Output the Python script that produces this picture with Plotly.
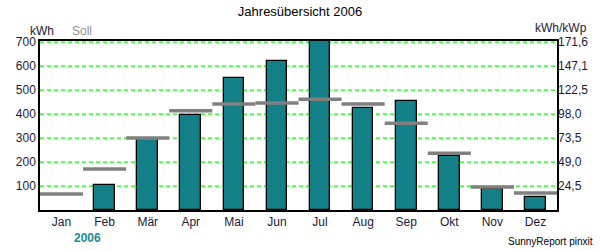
import plotly.graph_objects as go

months = ["Jan", "Feb", "Mär", "Apr", "Mai", "Jun", "Jul", "Aug", "Sep", "Okt", "Nov", "Dez"]
ist_kwh = [None, 106, 296, 396, 550, 621, 710, 425, 454, 225, 86, 53]
soll_kwh = [67, 171, 300, 414, 442, 446, 462, 442, 362, 237, 96, 71]
left_ticks = [100, 200, 300, 400, 500, 600, 700]
right_tick_labels = ["24,5", "49,0", "73,5", "98,0", "122,5", "147,1", "171,6"]

FONT = "Liberation Sans, Arial, sans-serif"
TICKC = "#1a1a3a"
x_idx = list(range(len(months)))
Y_MAX = 705

fig = go.Figure()
fig.add_trace(go.Bar(
    x=x_idx, y=ist_kwh, width=0.48,
    marker=dict(color="#137F86", line=dict(color="black", width=1.3)),
    showlegend=False, hoverinfo="skip"))

sx, sy = [], []
for i, v in enumerate(soll_kwh):
    sx += [i - 0.5, i + 0.5, None]
    sy += [v, v, None]
fig.add_trace(go.Scatter(x=sx, y=sy, mode="lines",
                         line=dict(color="#808080", width=3.5),
                         showlegend=False, hoverinfo="skip", cliponaxis=False))
fig.add_trace(go.Scatter(x=[0], y=[0], yaxis="y2", mode="markers",
                         marker=dict(opacity=0), showlegend=False, hoverinfo="skip"))

for t in left_ticks:
    fig.add_shape(type="line", xref="paper", yref="y", x0=0, x1=1, y0=t, y1=t,
                  line=dict(color="#00FF00", width=1.2, dash="4px,3px"), layer="below")

fig.update_layout(
    width=600, height=250,
    margin=dict(l=40, r=40, t=41, b=40),
    paper_bgcolor="white", plot_bgcolor="white",
    font=dict(family=FONT, size=12, color="black"),
    title=dict(text="Jahresübersicht 2006", x=0.5, xanchor="center", y=0.955, yanchor="middle",
               font=dict(family=FONT, size=13, color="black")),
    xaxis=dict(range=[-0.5, 11.5], tickvals=x_idx, ticktext=months, showgrid=False,
               showline=True, linecolor="black", linewidth=1.5, mirror=True,
               zeroline=False, ticks="", ticklen=0, fixedrange=True,
               tickfont=dict(size=12, color=TICKC)),
    yaxis=dict(range=[0, Y_MAX], tickvals=left_ticks, showgrid=False,
               showline=True, linecolor="black", linewidth=1.5, mirror=True,
               zeroline=False, ticks="", tickfont=dict(size=12, color=TICKC)),
    yaxis2=dict(range=[0, Y_MAX], overlaying="y", side="right", tickvals=left_ticks,
                ticktext=right_tick_labels, showgrid=False, zeroline=False, ticks="",
                showline=False, tickfont=dict(size=12, color=TICKC)),
    bargap=0,
)

anns = [
    dict(text="kWh", x=28, y=31, color=TICKC, size=12, xanchor="left"),
    dict(text="Soll", x=70, y=31, color="#909090", size=12, xanchor="left"),
    dict(text="kWh/kWp", x=592, y=28, color=TICKC, size=12, xanchor="right"),
    dict(text="<b>2006</b>", x=88, y=238, color="#1E8A95", size=12, xanchor="center"),
    dict(text="SunnyReport pinxit", x=598, y=241, color="black", size=10, xanchor="right"),
]
for a in anns:
    fig.add_annotation(text=a["text"], xref="paper", yref="paper",
                       x=(a["x"] - 40) / 520.0, y=1 - (a["y"] - 41) / 169.0,
                       xanchor=a["xanchor"], yanchor="middle", showarrow=False,
                       font=dict(family=FONT, size=a["size"], color=a["color"]))

fig.write_html("out.html")
